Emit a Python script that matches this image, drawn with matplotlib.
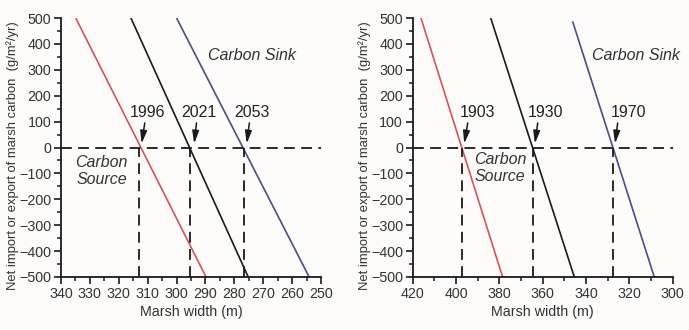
import numpy as np
import matplotlib.pyplot as plt
from matplotlib.ticker import MultipleLocator

plt.rcParams['font.family'] = ['Liberation Sans', 'DejaVu Sans']

# ---- data ----
# each line: (width at top, value at top, width at bottom, value at bottom)
left_lines = [(334.9, 500, 289.8, -500),
              (315.8, 500, 275.2, -500),
              (300.0, 500, 254.1, -500)]
left_cross = [312.9, 295.4, 276.8]
left_years = ['1996', '2021', '2053']
left_text_x = [310.2, 292.2, 273.8]
left_arrow_top = [311.0, 293.1, 274.8]
left_arrow_tip = [312.1, 293.9, 275.7]

right_lines = [(416.2, 500, 378.5, -500),
               (384.0, 500, 345.4, -500),
               (346.2, 487, 308.5, -500)]
right_cross = [397.4, 364.3, 327.4]
right_years = ['1903', '1930', '1970']
right_text_x = [390.2, 358.5, 320.5]
right_arrow_top = [394.6, 362.3, 325.4]
right_arrow_tip = [396.2, 363.6, 326.6]

colors = ['#d9505c', '#1a1a1a', '#4c4c88']
ylab = 'Net import or export of marsh carbon  (g/m\u00b2/yr)'

fig = plt.figure(figsize=(6.89, 3.30), dpi=100, facecolor='#fdfcfa')


def panel(ax, xlim, xmajor, lines, cross, years, tx, atop, atip, source_xy, sink_xy):
    ax.set_facecolor('#fdfcfa')
    for (x0, y0, x1, y1), c in zip(lines, colors):
        ax.plot([x0, x1], [y0, y1], color=c, lw=1.2, solid_capstyle='butt')
    ax.plot(xlim, [0, 0], color='#1a1a1a', lw=1.3, dashes=(6, 3.5), clip_on=False)
    for xc in cross:
        ax.plot([xc, xc], [-500, 0], color='#1a1a1a', lw=1.3, dashes=(6, 3.5))
    for yr, x, a0, a1 in zip(years, tx, atop, atip):
        ax.text(x, 135, yr, fontsize=11.5, ha='center', va='center', color='#222222')
        ax.annotate('', xy=(a1, 15), xytext=(a0, 95),
                    arrowprops=dict(arrowstyle='-|>,head_length=0.75,head_width=0.2',
                                    color='#1a1a1a', lw=1.1, shrinkA=0, shrinkB=0))
    ax.text(source_xy[0], source_xy[1], 'Carbon\nSource', fontsize=11.5, style='italic',
            ha='center', va='center', color='#333333', linespacing=1.15)
    ax.text(sink_xy[0], sink_xy[1], 'Carbon Sink', fontsize=11.5, style='italic',
            ha='center', va='center', color='#333333')

    ax.set_xlim(*xlim)
    ax.set_ylim(-500, 500)
    ax.xaxis.set_major_locator(MultipleLocator(xmajor))
    ax.xaxis.set_minor_locator(MultipleLocator(xmajor / 2))
    ax.yaxis.set_major_locator(MultipleLocator(100))
    ax.yaxis.set_minor_locator(MultipleLocator(50))
    for s in ['top', 'right']:
        ax.spines[s].set_visible(False)
    for s in ['left', 'bottom']:
        ax.spines[s].set_linewidth(1.3)
        ax.spines[s].set_color('#1a1a1a')
    ax.tick_params(which='major', direction='out', length=5, width=1.2, labelsize=10.3,
                   colors='#1a1a1a', labelcolor='#333333', pad=2)
    ax.tick_params(which='minor', direction='out', length=3, width=1.1, colors='#1a1a1a')
    ax.set_xlabel('Marsh width (m)', fontsize=10.3, color='#333333', labelpad=3)
    ax.set_ylabel(ylab, fontsize=9.4, color='#333333')
    ax.yaxis.set_label_coords(-0.16, 0.47)


ax1 = fig.add_axes([61 / 689, 53 / 330, 260 / 689, 259 / 330])
panel(ax1, (340, 250), 10, left_lines, left_cross, left_years,
      left_text_x, left_arrow_top, left_arrow_tip, (325.9, -90), (273.8, 355))

ax2 = fig.add_axes([412.7 / 689, 53 / 330, 260 / 689, 259 / 330])
panel(ax2, (420, 300), 20, right_lines, right_cross, right_years,
      right_text_x, right_arrow_top, right_arrow_tip, (379.7, -80), (317, 355))

fig.savefig('out.png', dpi=100, facecolor=fig.get_facecolor())
